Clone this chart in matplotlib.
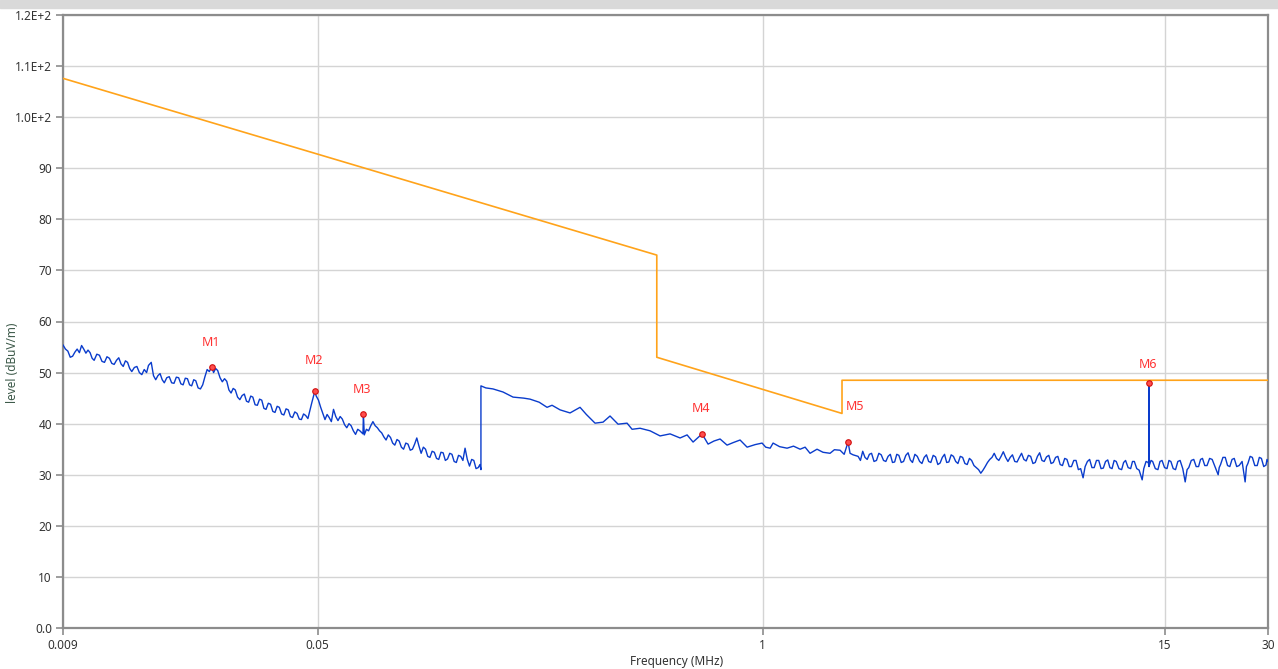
import matplotlib
matplotlib.use('Agg')
import matplotlib.pyplot as plt
from matplotlib.patches import Rectangle
from matplotlib.ticker import FixedLocator, FixedFormatter, NullLocator

plt.rcParams.update({'font.family': ['Noto Sans', 'DejaVu Sans'],
'font.size': 8.5,
'xtick.color': '#8c8c8c',
'ytick.color': '#8c8c8c',
'xtick.labelcolor': '#333333',
'ytick.labelcolor': '#333333'})

# measurement, band 9 kHz - 150 kHz (MHz / dBuV/m)
FREQ_A = [0.009, 0.00915, 0.0093, 0.00945, 0.0096, 0.00975, 0.0099, 0.01005, 0.0102, 0.01035,
          0.0105, 0.01065, 0.0108, 0.01095, 0.0111, 0.0113, 0.0115, 0.0117, 0.0119, 0.0121,
          0.0123, 0.0125, 0.0127, 0.0129, 0.0131, 0.0133, 0.0135, 0.0137, 0.0139, 0.0141,
          0.0143, 0.01455, 0.0148, 0.01505, 0.0153, 0.01555, 0.0158, 0.016, 0.0163, 0.01655,
          0.0168, 0.01705, 0.0173, 0.01755, 0.0178, 0.0181, 0.0184, 0.0187, 0.019, 0.0193,
          0.0196, 0.0199, 0.0202, 0.0205, 0.0208, 0.0211, 0.0214, 0.0217, 0.022, 0.02235,
          0.0227, 0.02305, 0.0234, 0.02375, 0.0241, 0.0245, 0.0248, 0.02515, 0.0255, 0.0259,
          0.0263, 0.0267, 0.0271, 0.0275, 0.0279, 0.0283, 0.0287, 0.02915, 0.0296, 0.03005,
          0.0305, 0.03095, 0.0314, 0.03185, 0.0323, 0.0328, 0.0333, 0.0338, 0.0343, 0.0348,
          0.0353, 0.03585, 0.0364, 0.03695, 0.0375, 0.03805, 0.0386, 0.0392, 0.0398, 0.0404,
          0.041, 0.0416, 0.0422, 0.04285, 0.0435, 0.04415, 0.0448, 0.04545, 0.0461, 0.0468,
          0.0475, 0.048, 0.0485, 0.049, 0.0495, 0.05025, 0.051, 0.05175, 0.0525, 0.05325,
          0.054, 0.0548, 0.0556, 0.05645, 0.0573, 0.05815, 0.059, 0.0599, 0.0608, 0.0617,
          0.0626, 0.06355, 0.0645, 0.06545, 0.0664, 0.0678, 0.068, 0.0684, 0.0694, 0.0704,
          0.07145, 0.0725, 0.0736, 0.0747, 0.0758, 0.0769, 0.07805, 0.0792, 0.0804, 0.0816,
          0.0828, 0.084, 0.08525, 0.0865, 0.0878, 0.0891, 0.09045, 0.0918, 0.0932, 0.0946,
          0.096, 0.0974, 0.09885, 0.1003, 0.1018, 0.1033, 0.10485, 0.1064, 0.108, 0.1096,
          0.11125, 0.1129, 0.1146, 0.1163, 0.11805, 0.1198, 0.1216, 0.1234, 0.12525, 0.1271,
          0.129, 0.1309, 0.13285, 0.1348, 0.13685, 0.1389, 0.14095, 0.143, 0.14515, 0.1473,
          0.149, 0.15]
LEVEL_A = [55.4, 54.6, 54.2, 53.0, 53.2, 54.0, 54.6, 53.9, 55.3, 54.6,
           53.8, 54.4, 53.9, 52.8, 52.4, 53.6, 53.4, 52.2, 52.0, 53.1,
           52.8, 51.8, 51.6, 52.4, 52.9, 51.7, 51.2, 52.3, 52.0, 50.8,
           50.2, 51.0, 51.2, 50.0, 49.6, 50.6, 50.0, 51.4, 52.0, 49.4,
           48.6, 49.4, 49.8, 48.6, 48.0, 49.0, 49.2, 48.0, 47.9, 49.1,
           49.0, 47.8, 47.6, 48.9, 48.8, 47.6, 47.4, 48.6, 48.4, 47.0,
           46.8, 47.6, 49.2, 50.6, 50.2, 51.1, 50.0, 50.8, 50.4, 49.0,
           48.2, 48.8, 48.3, 46.6, 46.0, 46.9, 46.6, 45.2, 44.7, 45.5,
           45.8, 44.4, 44.2, 45.4, 45.2, 43.7, 43.6, 44.8, 44.6, 43.0,
           42.8, 44.0, 43.8, 42.4, 42.2, 43.4, 43.2, 41.9, 41.7, 42.9,
           42.7, 41.4, 41.2, 42.3, 42.0, 40.9, 40.8, 41.9, 41.6, 41.0,
           42.8, 44.0, 45.2, 46.3, 45.4, 44.6, 43.2, 42.0, 40.8, 41.8,
           41.2, 40.4, 42.8, 41.4, 40.6, 41.4, 40.9, 39.8, 39.2, 40.0,
           39.6, 38.6, 37.9, 38.9, 38.6, 38.0, 41.9, 37.8, 38.9, 38.6,
           39.6, 40.4, 39.6, 39.2, 38.6, 38.2, 37.4, 36.8, 37.8, 37.3,
           36.2, 35.8, 36.9, 36.6, 35.4, 35.0, 36.2, 36.0, 34.8, 35.0,
           36.0, 37.2, 35.6, 34.2, 35.4, 35.0, 33.6, 33.4, 34.6, 34.4,
           33.2, 33.0, 34.4, 34.3, 32.8, 33.1, 34.2, 34.0, 32.6, 32.4,
           33.8, 33.6, 32.8, 35.2, 33.0, 31.7, 33.0, 32.8, 31.2, 31.4,
           32.0, 31.0]

# measurement, band 150 kHz - 30 MHz
FREQ_B = [0.15, 0.155, 0.1627, 0.174, 0.1862, 0.2, 0.2088, 0.222, 0.2341, 0.2421,
          0.2556, 0.2733, 0.2923, 0.305, 0.3234, 0.3413, 0.3577, 0.3776, 0.4012, 0.4149,
          0.4379, 0.4684, 0.501, 0.5359, 0.5732, 0.6009, 0.6256, 0.6646, 0.6921, 0.72,
          0.7503, 0.7864, 0.82, 0.8584, 0.9, 0.95, 0.9956, 1.02, 1.051, 1.072,
          1.12, 1.178, 1.23, 1.286, 1.33, 1.375, 1.441, 1.5, 1.573, 1.62,
          1.683, 1.73, 1.776, 1.8, 1.837,
          1.9, 1.93, 1.96, 1.99, 2.02, 2.05, 2.08, 2.115, 2.15, 2.185,
          2.22, 2.255, 2.29, 2.325, 2.36, 2.395, 2.43, 2.465, 2.5, 2.54,
          2.58, 2.62, 2.66, 2.7, 2.74, 2.785, 2.83, 2.875, 2.92, 2.965,
          3.01, 3.055, 3.1, 3.15, 3.2, 3.25, 3.3, 3.35, 3.4, 3.45,
          3.5, 3.555, 3.61, 3.665, 3.72, 3.78, 3.84, 3.9, 3.96, 4.02,
          4.08, 4.145, 4.21, 4.275, 4.34, 4.405, 4.47, 4.54, 4.61, 4.68,
          4.75, 4.825, 4.9, 4.975, 5.05, 5.13, 5.21, 5.29, 5.37, 5.455,
          5.54, 5.625, 5.71, 5.8, 5.89, 5.98, 6.07, 6.165, 6.26, 6.355,
          6.45, 6.55, 6.65, 6.755, 6.86, 6.965, 7.07, 7.18, 7.29, 7.405,
          7.52, 7.635, 7.75, 7.87, 7.99, 8.115, 8.24, 8.37, 8.5, 8.64,
          8.76, 8.895, 9.03, 9.17, 9.31, 9.455, 9.6, 9.75, 9.9, 10.05,
          10.2, 10.35, 10.5, 10.65, 10.8, 11.0, 11.2, 11.35, 11.5, 11.7,
          11.9, 12.05, 12.2, 12.4, 12.6, 12.86, 13.0, 13.2, 13.4, 13.47,
          13.48, 13.49, 13.65, 13.8, 14.05, 14.3, 14.5, 14.7, 14.95, 15.2,
          15.4, 15.6, 15.85, 16.1, 16.35, 16.6, 16.9, 17.18, 17.4, 17.6,
          17.9, 18.2, 18.5, 18.8, 19.05, 19.3, 19.6, 19.9, 20.25, 20.6,
          21.0, 21.45, 21.6, 21.8, 22.15, 22.5, 22.85, 23.2, 23.55, 23.9,
          24.3, 24.7, 25.2, 25.72, 25.95, 26.2, 26.6, 27.0, 27.45, 27.9,
          28.3, 28.7, 29.15, 29.6, 29.8, 30.0]
LEVEL_B = [47.4, 47.0, 46.8, 46.2, 45.2, 45.0, 44.8, 44.2, 43.2, 43.6,
           42.7, 42.1, 43.2, 41.8, 40.1, 40.3, 41.5, 39.9, 40.1, 38.9,
           39.1, 38.6, 37.6, 38.0, 37.2, 37.8, 36.4, 38.0, 36.0, 36.6,
           37.0, 35.8, 36.3, 36.8, 35.4, 35.9, 36.2, 35.4, 35.2, 36.2,
           35.5, 35.2, 35.6, 35.0, 35.4, 34.2, 35.0, 34.4, 34.2, 34.9,
           34.8, 34.0, 36.4, 34.2, 33.9,
           33.6, 32.8, 34.6, 33.4, 33.0, 34.0, 34.2, 32.6, 32.8, 34.2,
           33.9, 32.8, 32.6, 33.6, 34.0, 32.4, 32.5, 34.0, 33.8, 32.4,
           32.6, 33.8, 34.3, 32.9, 32.4, 34.0, 33.6, 32.6, 32.2, 33.4,
           33.9, 32.6, 32.4, 33.8, 33.5, 32.0, 32.3, 33.4, 34.0, 32.4,
           32.5, 33.9, 33.6, 32.6, 32.2, 33.6, 33.4, 32.2, 32.0, 33.2,
           32.8, 31.8, 31.4, 31.0, 30.3, 30.9, 31.6, 32.4, 33.0, 33.4,
           34.2, 33.2, 32.8, 33.6, 34.5, 33.4, 32.6, 33.4, 33.9, 32.6,
           32.5, 33.4, 34.2, 33.0, 32.7, 33.8, 33.6, 32.2, 32.4, 33.6,
           34.3, 32.8, 32.6, 33.5, 33.8, 32.2, 32.4, 33.4, 33.6, 32.0,
           31.8, 33.2, 33.0, 31.6, 31.6, 32.8, 32.8, 31.0, 31.2, 29.4,
           31.6, 32.6, 33.0, 31.4, 31.4, 32.8, 32.8, 31.2, 31.3, 32.6,
           32.9, 31.4, 31.2, 32.8, 32.6, 31.2, 31.0, 32.4, 32.8, 31.4,
           31.2, 32.6, 32.6, 31.2, 30.9, 29.0, 31.2, 32.6, 32.4, 31.6,
           47.9, 31.8, 32.8, 32.6, 31.2, 31.0, 32.6, 32.8, 31.4, 31.2,
           32.8, 32.6, 31.2, 31.0, 32.6, 32.8, 31.2, 28.6, 31.0, 31.4,
           32.8, 33.0, 31.6, 31.6, 33.0, 33.2, 31.8, 31.8, 33.2, 33.0,
           31.6, 30.0, 31.4, 32.0, 33.4, 33.4, 31.8, 31.6, 33.0, 33.2,
           31.6, 31.8, 32.6, 28.6, 31.6, 32.2, 33.6, 33.4, 31.8, 31.8,
           33.4, 33.2, 31.6, 31.9, 33.0, 32.6]

# limit line
LIMIT_FREQ = [0.009, 0.49, 0.49, 1.705, 1.705, 30.0]
LIMIT_LEVEL = [107.6, 73.0, 53.0, 42.0, 48.5, 48.5]

# markers
MARKER_NAMES = ['M1', 'M2', 'M3', 'M4', 'M5', 'M6']
MARKER_FREQ = [0.0245, 0.049, 0.068, 0.6646, 1.776, 13.48]
MARKER_LEVEL = [51.1, 46.3, 41.9, 38.0, 36.4, 47.9]

X_TICKS = [0.009, 0.05, 1, 15, 30]
X_TICK_LABELS = ['0.009', '0.05', '1', '15', '30']
Y_TICKS = [0, 10, 20, 30, 40, 50, 60, 70, 80, 90, 100, 110, 120]
Y_TICK_LABELS = ['0.0', '10', '20', '30', '40', '50', '60', '70', '80', '90',
                 '1.0E+2', '1.1E+2', '1.2E+2']

# label offsets in pixels relative to marker
LABEL_OFFSETS = [(-1, 24), (-1, 31), (-1, 24), (-1, 25), (7, 36), (-1, 19)]

W, H = 1278, 669

# ----------------------------------------------------------------------------------------------------
def plot_scan():

    fig = plt.figure(figsize=(W / 100, H / 100), dpi=100)
    fig.add_artist(Rectangle((0, 1 - 8 / H), 1, 8 / H, transform=fig.transFigure,
                             color='#d9d9d9', zorder=0))

    ax = fig.add_axes([63 / W, 41 / H, (1268 - 63) / W, (628 - 15) / H])
    ax.set_xscale('log')
    ax.set_xlim(0.009, 30)
    ax.set_ylim(0, 120)

    ax.xaxis.set_major_locator(FixedLocator(X_TICKS))
    ax.xaxis.set_major_formatter(FixedFormatter(X_TICK_LABELS))
    ax.xaxis.set_minor_locator(NullLocator())
    ax.yaxis.set_major_locator(FixedLocator(Y_TICKS))
    ax.yaxis.set_major_formatter(FixedFormatter(Y_TICK_LABELS))
    ax.tick_params(axis='both', length=5, width=1.2, pad=3)

    ax.grid(True, color='#d4d4d4', linewidth=1)
    ax.set_axisbelow(True)
    for side in ['left', 'bottom', 'top', 'right']:
        ax.spines[side].set_color('#8c8c8c')
        ax.spines[side].set_linewidth(1.6)

    ax.plot(LIMIT_FREQ, LIMIT_LEVEL, color='#ffa31a', linewidth=1.2, zorder=3)
    ax.plot(FREQ_A + FREQ_B, LEVEL_A + LEVEL_B, color='#0a3ccc', linewidth=1.0, zorder=4)
    ax.plot(MARKER_FREQ, MARKER_LEVEL, linestyle='none', marker='o', markersize=4,
            markerfacecolor='#ff4d4d', markeredgecolor='#d01010', markeredgewidth=0.8, zorder=5)

    for name, f, lv, off in zip(MARKER_NAMES, MARKER_FREQ, MARKER_LEVEL, LABEL_OFFSETS):
        ax.annotate(name, (f, lv), xytext=off, textcoords='offset pixels',
                    ha='center', va='center', color='#ff3333', fontsize=9)

    fig.text(677 / W, 1 - 661 / H, 'Frequency (MHz)', ha='center', va='center',
             color='#333333', fontsize=8.5)
    fig.text(13 / W, 1 - 363 / H, 'level (dBuV/m)', ha='center', va='center',
             rotation=90, color='#3d5a4a', fontsize=8.5)

    fig.savefig('out.png', dpi=100)

# ----------------------------------------------------------------------------------------------------
if __name__ == '__main__':

    plot_scan()
